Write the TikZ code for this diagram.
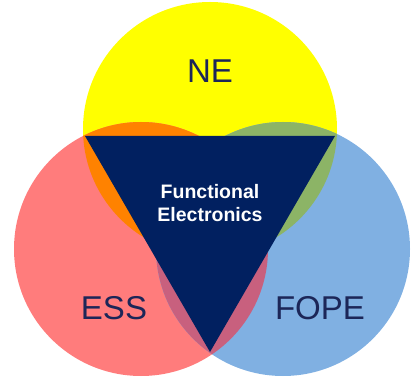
\documentclass[tikz,border=0pt]{standalone}
\usepackage{fontspec}
\setmainfont{Liberation Sans}
\definecolor{cyel}{HTML}{FFFF00}
\definecolor{cred}{HTML}{FF7C7C}
\definecolor{cblue}{HTML}{80B0E2}
\definecolor{corange}{HTML}{FF8200}
\definecolor{cgreen}{HTML}{8CB466}
\definecolor{cmauve}{HTML}{C8607E}
\definecolor{cnavy}{HTML}{012060}
\definecolor{ctext}{HTML}{1C2658}
\tikzset{
  lbl/.style={text=ctext, font=\fontsize{33}{36}\selectfont, inner sep=0pt},
  ctr/.style={text=white, font=\bfseries\fontsize{19.5}{23}\selectfont, align=center, inner sep=0pt}
}
\begin{document}
\begin{tikzpicture}[x=1pt,y=-1pt]
\useasboundingbox (0,0) rectangle (415,379);
\def\R{127}
\coordinate (cy) at (210,129);
\coordinate (cr) at (141,249);
\coordinate (cb) at (283,249);
% circles
\fill[cyel] (cy) circle (\R);
\fill[cred] (cr) circle (\R);
\fill[cblue] (cb) circle (\R);
% overlaps
\begin{scope}
  \clip (cy) circle (\R);
  \fill[corange] (cr) circle (\R);
  \fill[cgreen] (cb) circle (\R);
\end{scope}
\begin{scope}
  \clip (cr) circle (\R);
  \fill[cmauve] (cb) circle (\R);
  \clip (cb) circle (\R);
  \fill[cnavy] (cy) circle (\R);
\end{scope}
% triangle
\coordinate (tl) at (85,136);
\coordinate (tr) at (335,136);
\coordinate (tb) at (210,352);
\fill[cnavy] (tl) -- (tr) -- (tb) -- cycle;
% labels
\node[lbl] (ne) at (210,71) {NE};
\node[lbl] (ess) at (114,308) {ESS};
\node[lbl] (fope) at (320,308) {FOPE};
\node[ctr] (fe) at (210,203) {Functional\\Electronics};
\end{tikzpicture}
\end{document}
